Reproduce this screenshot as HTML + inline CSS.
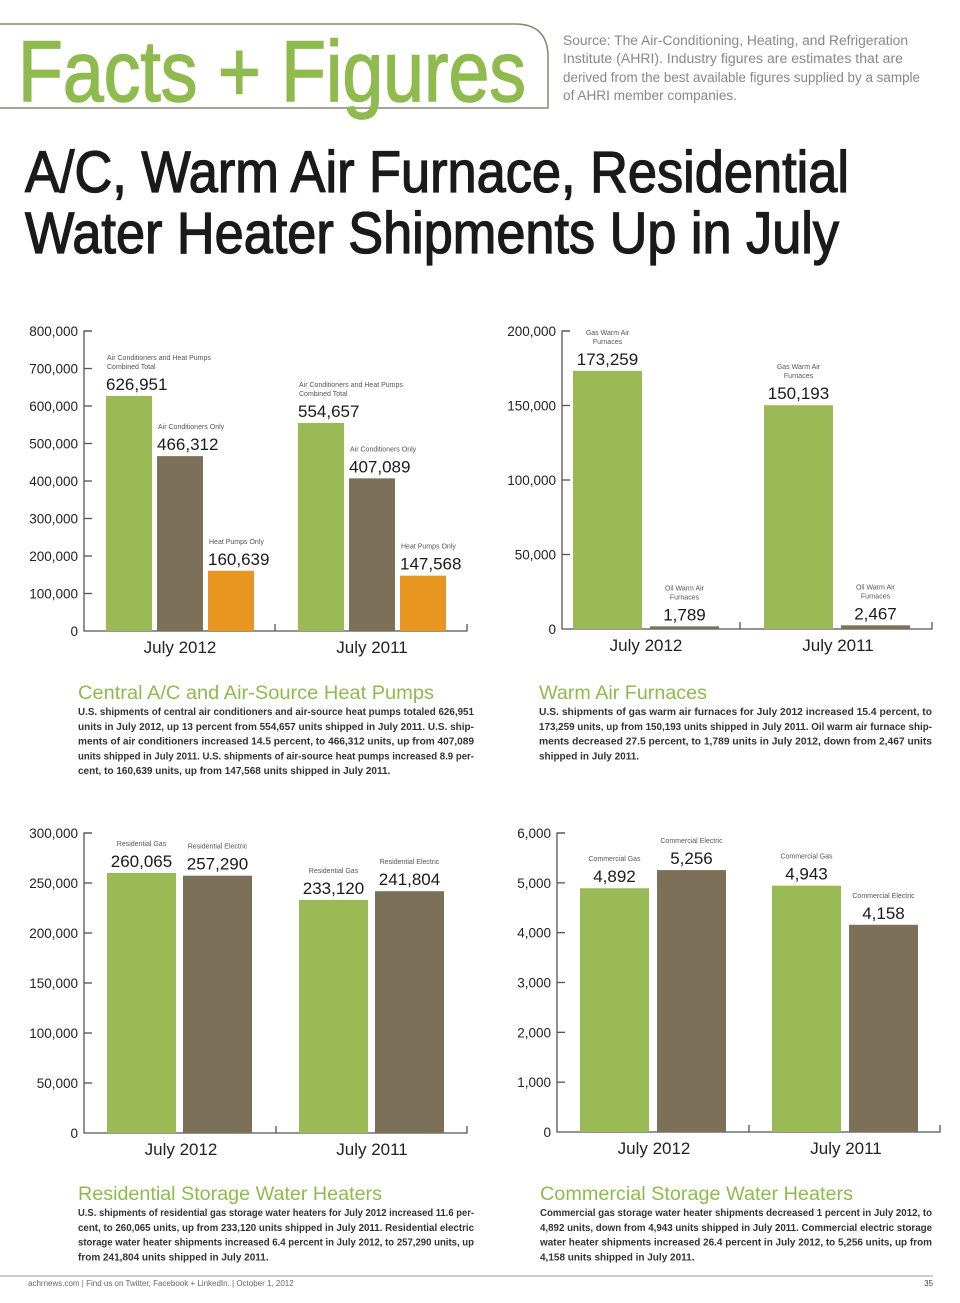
<!DOCTYPE html>
<html><head><meta charset="utf-8"><style>
html,body{margin:0;padding:0;background:#fff}
svg{display:block}
text{font-family:"Liberation Sans",sans-serif}
</style></head><body>
<svg id="page" width="960" height="1303" viewBox="0 0 960 1303" xmlns="http://www.w3.org/2000/svg">
<g>
<path d="M0 24 H515 Q548 24 548 57 V108 H0" fill="none" stroke="#8a8378" stroke-width="1.5"/>
<text x="18" y="101" font-size="86" fill="#8fba4e" stroke="#8fba4e" stroke-width="1.5" textLength="508" lengthAdjust="spacingAndGlyphs">Facts + Figures</text>
<g font-size="13.5" fill="#888">
<text x="563" y="45" textLength="345" lengthAdjust="spacingAndGlyphs">Source: The Air-Conditioning, Heating, and Refrigeration</text>
<text x="563" y="63" textLength="340" lengthAdjust="spacingAndGlyphs">Institute (AHRI). Industry figures are estimates that are</text>
<text x="563" y="82" textLength="357" lengthAdjust="spacingAndGlyphs">derived from the best available figures supplied by a sample</text>
<text x="563" y="100" textLength="174" lengthAdjust="spacingAndGlyphs">of AHRI member companies.</text>
</g>
<text x="25" y="192" font-size="58" fill="#1a1a1a" stroke="#1a1a1a" stroke-width="1.3" textLength="824" lengthAdjust="spacingAndGlyphs">A/C, Warm Air Furnace, Residential</text>
<text x="25" y="253" font-size="58" fill="#1a1a1a" stroke="#1a1a1a" stroke-width="1.3" textLength="814" lengthAdjust="spacingAndGlyphs">Water Heater Shipments Up in July</text>
</g>
<g id="charts"></g>
<g id="texts"></g>
<line x1="0" y1="1276" x2="933" y2="1276" stroke="#999" stroke-width="1"/>
<text x="28" y="1286" font-size="8" fill="#666">achrnews.com  |  Find us on Twitter, Facebook + LinkedIn.  |  October 1, 2012</text>
<text x="933" y="1286" font-size="8" fill="#444" text-anchor="end">35</text>
</svg>
<script>
const NS='http://www.w3.org/2000/svg';
const GREEN='#9aba55',BROWN='#7c7059',ORANGE='#e8961f';
// Chart 1: Central A/C and heat pumps
const c1Categories=['July 2012','July 2011'];
const c1Series=['Air Conditioners and Heat Pumps|Combined Total','Air Conditioners Only','Heat Pumps Only'];
const c1Values2012=[626951,466312,160639];
const c1Values2011=[554657,407089,147568];
const c1Ticks=[0,100000,200000,300000,400000,500000,600000,700000,800000];
// Chart 2: Warm air furnaces
const c2Categories=['July 2012','July 2011'];
const c2Series=['Gas Warm Air|Furnaces','Oil Warm Air|Furnaces'];
const c2Values2012=[173259,1789];
const c2Values2011=[150193,2467];
const c2Ticks=[0,50000,100000,150000,200000];
// Chart 3: Residential storage water heaters
const c3Categories=['July 2012','July 2011'];
const c3Series=['Residential Gas','Residential Electric'];
const c3Values2012=[260065,257290];
const c3Values2011=[233120,241804];
const c3Ticks=[0,50000,100000,150000,200000,250000,300000];
// Chart 4: Commercial storage water heaters
const c4Categories=['July 2012','July 2011'];
const c4Series=['Commercial Gas','Commercial Electric'];
const c4Values2012=[4892,5256];
const c4Values2011=[4943,4158];
const c4Ticks=[0,1000,2000,3000,4000,5000,6000];

const root=document.getElementById('charts');
function mk(tag,attrs,parent,txt){const e=document.createElementNS(NS,tag);for(const k in attrs)e.setAttribute(k,attrs[k]);if(txt!==undefined)e.textContent=txt;parent.appendChild(e);return e;}
const fmt=v=>v.toLocaleString('en-US');

function chart(id,cfg){
  const g=mk('g',{},root);
  
  
  const maxV=cfg.ticks[cfg.ticks.length-1];
  const y=v=>cfg.y0-(v/maxV)*(cfg.y0-cfg.yTop);
  const ax=mk('path',{d:`M${cfg.ax+8} ${cfg.yTop} H${cfg.ax} V${cfg.y0} H${cfg.xEnd} V${cfg.y0-7} M${cfg.sep} ${cfg.y0} V${cfg.y0-7}`,fill:'none',stroke:'#555','stroke-width':1.3},g);
  
  
  cfg.ticks.forEach(t=>{
    if(t>0){const tl=mk('line',{x1:cfg.ax,x2:cfg.ax+8,y1:y(t),y2:y(t),stroke:'#555','stroke-width':1.3},g);
    
    }
    const tx=mk('text',{x:cfg.ax-6,y:y(t)+5,'font-size':13.5,fill:'#222','text-anchor':'end'},g,fmt(t));
    
    
  });
  const groups=[cfg.v12,cfg.v11];
  groups.forEach((vals,gi)=>{
    const cl=mk('text',{x:cfg.catX[gi],y:cfg.y0+22,'font-size':17,fill:'#222','text-anchor':'middle'},g,cfg.cats[gi]);
    
    
    vals.forEach((v,si)=>{
      const x=cfg.gx[gi]+si*(cfg.bw+cfg.gap);
      const top=y(v);
      const r=mk('rect',{x:x,y:top,width:cfg.bw,height:cfg.y0-top,fill:cfg.colors[si]},g);
      
      
      const cx=cfg.center?x+cfg.bw/2:x;
      const anc=cfg.center?'middle':'start';
      const vt=mk('text',{x:cfg.center?cx:x,y:top-6,'font-size':17,fill:'#1a1a1a','text-anchor':anc},g,fmt(v));
      
      
      const lines=cfg.series[si].split('|');
      lines.forEach((ln,li)=>{
        const st=mk('text',{x:cfg.center?cx:x+1,y:top-27-(lines.length-1-li)*9,'font-size':7,fill:'#555','text-anchor':anc},g,ln);
        
        
      });
    });
  });
}
chart('chart-central-ac',{ticks:c1Ticks,cats:c1Categories,series:c1Series,v12:c1Values2012,v11:c1Values2011,colors:[GREEN,BROWN,ORANGE],
  ax:84,yTop:331,y0:631,xEnd:467,sep:275,gx:[106,298],bw:46,gap:5,catX:[180,372],center:false});
chart('chart-warm-air-furnaces',{ticks:c2Ticks,cats:c2Categories,series:c2Series,v12:c2Values2012,v11:c2Values2011,colors:[GREEN,BROWN],
  ax:562,yTop:331,y0:629,xEnd:932,sep:740,gx:[573,764],bw:69,gap:8,catX:[646,838],center:true});
chart('chart-residential-water-heaters',{ticks:c3Ticks,cats:c3Categories,series:c3Series,v12:c3Values2012,v11:c3Values2011,colors:[GREEN,BROWN],
  ax:84,yTop:833,y0:1133,xEnd:467,sep:276,gx:[107,299],bw:69,gap:7,catX:[181,372],center:true});
chart('chart-commercial-water-heaters',{ticks:c4Ticks,cats:c4Categories,series:c4Series,v12:c4Values2012,v11:c4Values2011,colors:[GREEN,BROWN],
  ax:557,yTop:833,y0:1132,xEnd:940,sep:749,gx:[580,772],bw:69,gap:8,catX:[654,846],center:true});

const T=document.getElementById('texts');
const blocks=[
 {name:'central-ac-section',x:78,y:699,w:396,title:'Central A/C and Air-Source Heat Pumps',tw:356,lines:[
  'U.S. shipments of central air conditioners and air-source heat pumps totaled 626,951',
  'units in July 2012, up 13 percent from 554,657 units shipped in July 2011. U.S. ship-',
  'ments of air conditioners increased 14.5 percent, to 466,312 units, up from 407,089',
  'units shipped in July 2011. U.S. shipments of air-source heat pumps increased 8.9 per-',
  'cent, to 160,639 units, up from 147,568 units shipped in July 2011.']},
 {name:'warm-air-furnaces-section',x:539,y:699,w:393,title:'Warm Air Furnaces',tw:168,lines:[
  'U.S. shipments of gas warm air furnaces for July 2012 increased 15.4 percent, to',
  '173,259 units, up from 150,193 units shipped in July 2011. Oil warm air furnace ship-',
  'ments decreased 27.5 percent, to 1,789 units in July 2012, down from 2,467 units',
  'shipped in July 2011.']},
 {name:'residential-water-heaters-section',x:78,y:1200,w:396,title:'Residential Storage Water Heaters',tw:304,lines:[
  'U.S. shipments of residential gas storage water heaters for July 2012 increased 11.6 per-',
  'cent, to 260,065 units, up from 233,120 units shipped in July 2011. Residential electric',
  'storage water heater shipments increased 6.4 percent in July 2012, to 257,290 units, up',
  'from 241,804 units shipped in July 2011.']},
 {name:'commercial-water-heaters-section',x:540,y:1200,w:392,title:'Commercial Storage Water Heaters',tw:313,lines:[
  'Commercial gas storage water heater shipments decreased 1 percent in July 2012, to',
  '4,892 units, down from 4,943 units shipped in July 2011. Commercial electric storage',
  'water heater shipments increased 26.4 percent in July 2012, to 5,256 units, up from',
  '4,158 units shipped in July 2011.']}
];
blocks.forEach(b=>{
  const g=mk('g',{},T);
  
  
  const tt=mk('text',{x:b.x,y:b.y,'font-size':19,fill:'#8fba4e',textLength:b.tw,lengthAdjust:'spacingAndGlyphs'},g,b.title);
  
  
  b.lines.forEach((l,i)=>{
    const last=i===b.lines.length-1;
    const a={x:b.x,y:b.y+16+i*14.8,'font-size':10,'font-weight':'bold',fill:'#333'};
    if(!last){a.textLength=b.w;a.lengthAdjust='spacingAndGlyphs';}
    const t=mk('text',a,g,l);
    
    
  });
});
</script>
</body></html>
